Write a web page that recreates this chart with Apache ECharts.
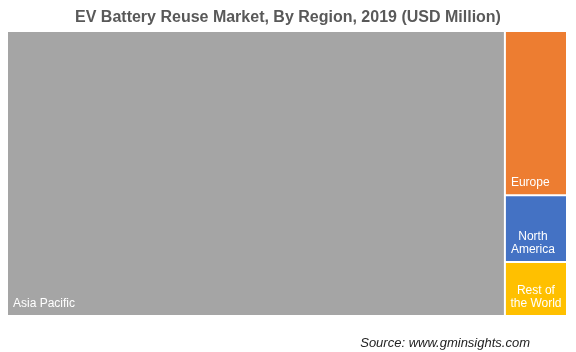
<!DOCTYPE html>
<html>
<head>
<meta charset="utf-8">
<script src="https://cdn.jsdelivr.net/npm/echarts@6/dist/echarts.min.js"></script>
<style>
html,body{margin:0;padding:0;background:#fff;}
#c{width:576px;height:352px;}
</style>
</head>
<body>
<div id="c"></div>
<script>
const regions = ['Asia Pacific', 'Europe', 'North America', 'Rest of the World'];
const labelTexts = ['Asia Pacific', 'Europe', 'North\nAmerica', 'Rest of\nthe World'];
const values = [445, 32, 13, 10.5];

const colors = ['#A5A5A5', '#ED7D31', '#4472C4', '#FFC000'];
const labelPos = ['insideBottomLeft', 'insideBottomLeft', 'insideBottom', 'insideBottom'];
const labelAlign = ['left', 'left', 'center', 'center'];
const labelOffset = [[0, 0], [0, 0], [-3, 0], [0, 0]];

const chart = echarts.init(document.getElementById('c'), null, {renderer: 'canvas'});

const data = regions.map((name, i) => ({
  name: name,
  value: values[i],
  itemStyle: {color: colors[i]},
  label: {
    formatter: labelTexts[i],
    position: labelPos[i],
    align: labelAlign[i],
    offset: labelOffset[i]
  }
}));

chart.setOption({
  animation: false,
  backgroundColor: '#ffffff',
  title: {
    text: 'EV Battery Reuse Market, By Region, 2019 (USD Million)',
    left: 'center',
    top: 5,
    textStyle: {
      fontFamily: 'Liberation Sans, Arial, sans-serif',
      fontSize: 16,
      fontWeight: 'bold',
      color: '#595959'
    }
  },
  graphic: [{
    type: 'text',
    right: 46,
    top: 337,
    style: {
      text: 'Source: www.gminsights.com',
      font: 'italic 13px "Liberation Sans", Arial, sans-serif',
      fill: '#222'
    }
  }],
  series: [{
    type: 'treemap',
    left: 8,
    top: 32,
    width: 558,
    height: 283,
    roam: false,
    nodeClick: false,
    breadcrumb: {show: false},
    silent: true,
    label: {
      show: true,
      distance: 0,
      padding: 5,
      overflow: 'none',
      color: '#fff',
      fontSize: 12,
      lineHeight: 13,
      fontFamily: 'Liberation Sans, Arial, sans-serif'
    },
    levels: [
      {itemStyle: {borderWidth: 0, gapWidth: 2}},
      {itemStyle: {borderWidth: 0, gapWidth: 0}}
    ],
    data: data
  }]
});
</script>
</body>
</html>
